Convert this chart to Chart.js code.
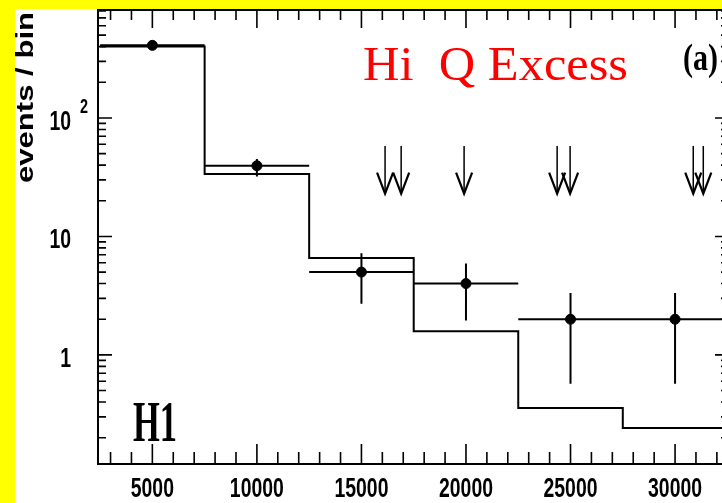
<!DOCTYPE html>
<html><head><meta charset="utf-8">
<style>
html,body{margin:0;padding:0;background:#fff;overflow:hidden;width:722px;height:503px;}
#wrap{position:absolute;left:0;top:0;width:736px;height:503px;}
</style>
<script src="https://cdn.jsdelivr.net/npm/chart.js@4.4.1/dist/chart.umd.min.js"></script>
</head><body><div id="wrap"><canvas id="c" width="736" height="503"></canvas></div>
<script>
// ---- data ----
const binEdges    = [2500, 7500, 12500, 17500, 22500, 27500, 32500];
const binCenters  = [5000, 10000, 15000, 20000, 25000, 30000];
const dataValues  = [410, 39.5, 5.0, 4.0, 2.0, 2.0];
const dataErrLow  = [385, 32, 2.7, 1.95, 0.57, 0.57];
const dataErrHigh = [435, 45, 7.2, 5.9, 3.33, 3.33];
const mcValues    = [400, 33.6, 6.56, 1.58, 0.357, 0.242];
const eventQ2     = [16130, 16900, 19910, 24360, 24980, 30870, 31350];
const arrowTop = 58, arrowTip = 23;
const xMajorTicks = [5000, 10000, 15000, 20000, 25000, 30000];
const xTickLabels = ['5000', '10000', '15000', '20000', '25000', '30000'];
const xMinorTicks = [];
for (let v = 3000; v <= 32000; v += 1000) if (v % 5000) xMinorTicks.push(v);
const yMajorTicks = [1, 10, 100];
const yTickLabels = ['1', '10', '10'];
const yTickExps   = ['', '', '2'];
const yMinorTicks = [];
[0.1, 1, 10, 100].forEach(d => { for (let m = 2; m <= 9; m++) { const v = m * d; if (v > 0.12 && v < 815) yMinorTicks.push(+v.toPrecision(3)); } });
const xMin = 2400, xMax = 32580, yMin = 0.12, yMax = 815;

// ---- build datasets ----
const mcPts = binEdges.map((e, i) => ({x: e, y: mcValues[Math.min(i, mcValues.length - 1)]}));
const hBars = [], vBars = [];
binCenters.forEach((c, i) => {
  hBars.push({x: binEdges[i], y: dataValues[i]}, {x: binEdges[i + 1], y: dataValues[i]}, {x: binEdges[i + 1], y: null});
  vBars.push({x: c, y: dataErrLow[i]}, {x: c, y: dataErrHigh[i]}, {x: c, y: null});
});
const pts = binCenters.map((c, i) => ({x: c, y: dataValues[i]}));

function txt(ctx, s, x, y, font, sx, align, color) {
  ctx.save();
  ctx.font = font; ctx.fillStyle = color || '#000'; ctx.textBaseline = 'alphabetic';
  const w = ctx.measureText(s).width;
  ctx.translate(x, y); ctx.scale(sx, 1);
  let ox = 0;
  if (align === 'center') ox = -w / 2; else if (align === 'right') ox = -w;
  ctx.textAlign = 'left';
  ctx.fillText(s, ox, 0);
  ctx.restore();
}

const deco = {
  id: 'deco',
  afterDraw(chart) {
    const ctx = chart.ctx, xs = chart.scales.x, ys = chart.scales.y, a = chart.chartArea;
    ctx.save();
    ctx.strokeStyle = '#000';
    ctx.lineWidth = 2;
    ctx.strokeRect(a.left, a.top, a.right - a.left, a.bottom - a.top);
    ctx.lineWidth = 1.6;
    ctx.beginPath();
    const xt = (v, lb, lt) => { const p = xs.getPixelForValue(v); ctx.moveTo(p, a.bottom); ctx.lineTo(p, a.bottom - lb); ctx.moveTo(p, a.top); ctx.lineTo(p, a.top + lt); };
    xMajorTicks.forEach(v => xt(v, 20, 18));
    xMinorTicks.forEach(v => xt(v, 12, 10));
    const yt = (v, l) => { const p = ys.getPixelForValue(v); ctx.moveTo(a.left, p); ctx.lineTo(a.left + l, p); ctx.moveTo(a.right, p); ctx.lineTo(a.right - l, p); };
    yMajorTicks.forEach(v => yt(v, 14));
    yMinorTicks.forEach(v => yt(v, 8));
    ctx.stroke();
    // arrows
    eventQ2.forEach(q => {
      const px = xs.getPixelForValue(q), t = ys.getPixelForValue(arrowTop), b = ys.getPixelForValue(arrowTip);
      ctx.lineWidth = 1.5;
      ctx.beginPath(); ctx.moveTo(px, t); ctx.lineTo(px, b); ctx.stroke();
      ctx.lineWidth = 2.2;
      ctx.beginPath(); ctx.moveTo(px - 8, b - 21); ctx.lineTo(px, b); ctx.lineTo(px + 8, b - 21); ctx.stroke();
    });
    // tick labels
    xMajorTicks.forEach((v, i) => txt(ctx, xTickLabels[i], xs.getPixelForValue(v), 497, 'bold 27px "Liberation Sans", Arial, sans-serif', 0.72, 'center'));
    yMajorTicks.forEach((v, i) => {
      const p = ys.getPixelForValue(v);
      txt(ctx, yTickLabels[i], 71, p + 12, 'bold 27px "Liberation Sans", Arial, sans-serif', 0.72, 'right');
      if (yTickExps[i]) txt(ctx, yTickExps[i], 80, p - 5, 'bold 20px "Liberation Sans", Arial, sans-serif', 0.72, 'left');
    });
    // y title
    ctx.save();
    ctx.translate(33, 97.5); ctx.rotate(-Math.PI / 2);
    ctx.font = 'bold 24px "Liberation Sans", Arial, sans-serif';
    const tw = ctx.measureText('events / bin').width;
    txt(ctx, 'events / bin', 0, 0, ctx.font, 171 / tw, 'center');
    ctx.restore();
    // annotations
    ctx.font = '49px "Liberation Serif", "Times New Roman", serif';
    const hw = ctx.measureText('Hi  Q Excess').width;
    txt(ctx, 'Hi  Q Excess', 363, 80, ctx.font, 265 / hw, 'left', '#ff0000');
    ctx.font = 'bold 38px "Liberation Serif", "Times New Roman", serif';
    const aw = ctx.measureText('(a)').width;
    txt(ctx, '(a)', 683, 70, ctx.font, 35 / aw, 'left');
    ctx.font = 'bold 58px "Liberation Serif", "Times New Roman", serif';
    const h1w = ctx.measureText('H1').width;
    txt(ctx, 'H1', 133, 441, ctx.font, 44 / h1w, 'left');
    // yellow frame
    ctx.fillStyle = '#ffff00';
    ctx.fillRect(0, 0, 736, 9);
    ctx.fillRect(0, 0, 15, 503);
    ctx.restore();
  }
};

new Chart(document.getElementById('c'), {
  type: 'line',
  data: {
    datasets: [
      {data: mcPts, stepped: 'before', borderColor: '#000', borderWidth: 2, pointRadius: 0, fill: false},
      {data: hBars, borderColor: '#000', borderWidth: 2, pointRadius: 0, spanGaps: false, fill: false},
      {data: vBars, borderColor: '#000', borderWidth: 2, pointRadius: 0, spanGaps: false, fill: false},
      {data: pts, showLine: false, pointRadius: 5, pointStyle: 'circle', backgroundColor: '#000', borderColor: '#000', borderWidth: 1}
    ]
  },
  options: {
    responsive: false, animation: false, devicePixelRatio: 1,
    layout: {padding: {left: 98, top: 10, right: 7, bottom: 39}},
    plugins: {legend: {display: false}, tooltip: {enabled: false}},
    scales: {
      x: {type: 'linear', min: xMin, max: xMax, display: false},
      y: {type: 'logarithmic', min: yMin, max: yMax, display: false}
    }
  },
  plugins: [deco]
});
</script></body></html>
